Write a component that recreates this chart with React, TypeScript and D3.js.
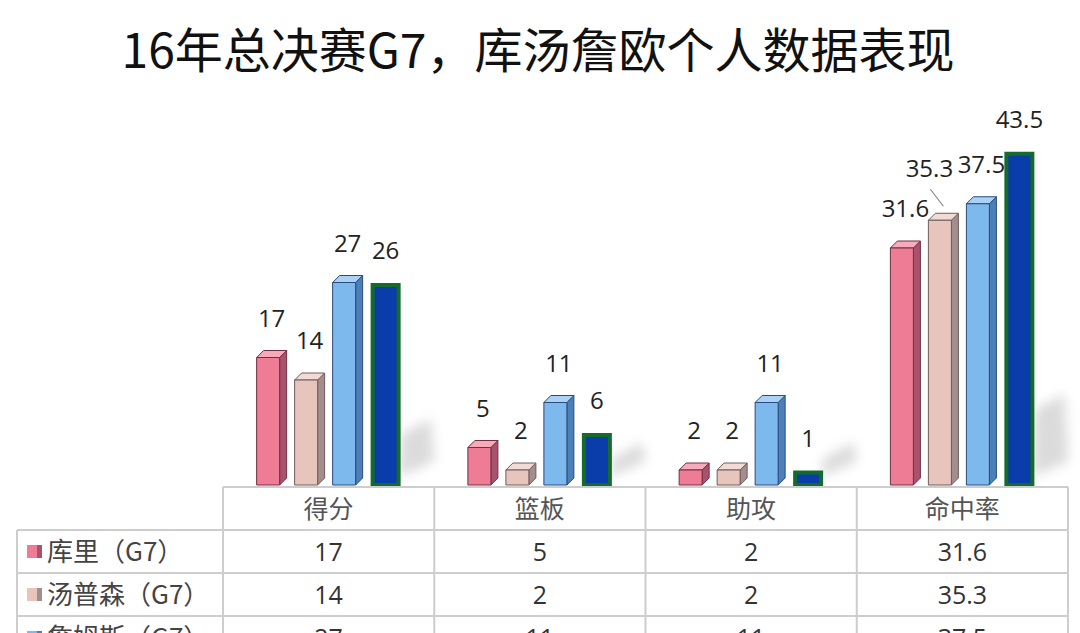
import React from 'react';
import * as d3 from 'd3';

const TITLE = '16年总决赛G7，库汤詹欧个人数据表现';
const categories = ['得分', '篮板', '助攻', '命中率'];
const seriesNames = ['库里（G7）', '汤普森（G7）', '詹姆斯（G7）', '欧文（G7）'];
const curry = [17, 5, 2, 31.6];
const thompson = [14, 2, 2, 35.3];
const james = [27, 11, 11, 37.5];
const irving = [26, 6, 1, 43.5];
const seriesValues = [curry, thompson, james, irving];

const W = 1080;
const H = 633;
const BASE = 485;
const DX = 7;
const DY = 7;

const styles = [
  { front: '#EE7C94', side: '#A9526C', top: '#F6AABA', stroke: '#6E3044' },
  { front: '#E7C5BC', side: '#A38D8D', top: '#F2DBD5', stroke: '#6E5C5C' },
  { front: '#7DB9EC', side: '#4C80B9', top: '#A9D2F6', stroke: '#2B4B7C' },
  { front: '#0A3CAA', side: '#0A3CAA', top: '#0A3CAA', stroke: '#146B2C' },
];

export default function App() {
  const x = d3.scaleBand<string>().domain(categories).range([223, 1068]).padding(0);
  const inner = d3
    .scaleBand<string>()
    .domain(seriesNames)
    .range([0, 137])
    .paddingInner(15 / 38)
    .paddingOuter(0);
  const y = d3.scaleLinear().domain([0, 50]).range([BASE, BASE - 375]);
  const bw = inner.bandwidth();
  const groupOffset = x.bandwidth() / 2 - (137 + DX) / 2;

  const tableTop = 487;
  const headerBottom = 530;
  const rowH = 43;
  const tableLeft = 17;
  const tableRight = 1068;
  const gridColor = '#CDCDCD';
  const rowsBottom = headerBottom + rowH * seriesNames.length;

  const bars: React.ReactNode[] = [];
  const labels: React.ReactNode[] = [];
  const shadows: React.ReactNode[] = [];

  categories.forEach((cat, ci) => {
    const g0 = (x(cat) as number) + groupOffset;
    const groupMax = d3.max(seriesValues, (s) => s[ci]) as number;
    const sh = (BASE - y(groupMax)) * 0.2;
    const xr = g0 + 137 + DX + 4;
    shadows.push(
      <polygon
        key={'sh' + ci}
        points={`${xr - 6},${BASE - 8} ${xr - 4},${BASE - sh - 10} ${xr + 26},${BASE - sh - 26} ${xr + 30},${BASE - 24}`}
        fill="#999"
        opacity={0.35}
        filter="url(#blur)"
      />
    );
    seriesNames.forEach((sn, si) => {
      const v = seriesValues[si][ci];
      const st = styles[si];
      const bx = g0 + (inner(sn) as number);
      const by = y(v);
      if (si === 3) {
        bars.push(
          <rect
            key={`b${ci}-${si}`}
            x={bx + 2}
            y={by - DY + 2}
            width={bw + DX - 4}
            height={BASE - by + DY - 2}
            fill={st.front}
            stroke={st.stroke}
            strokeWidth={4}
          />
        );
      } else {
        bars.push(
          <g key={`b${ci}-${si}`} stroke={st.stroke} strokeWidth={1} strokeLinejoin="round">
            <polygon
              points={`${bx + bw},${by} ${bx + bw + DX},${by - DY} ${bx + bw + DX},${BASE - DY} ${bx + bw},${BASE}`}
              fill={st.side}
            />
            <polygon
              points={`${bx},${by} ${bx + DX},${by - DY} ${bx + bw + DX},${by - DY} ${bx + bw},${by}`}
              fill={st.top}
            />
            <rect x={bx} y={by} width={bw} height={BASE - by} fill={st.front} />
          </g>
        );
      }
      let lx = bx + (bw + DX) / 2;
      let ly = by - DY - 24;
      const special = ci === 3 && si === 1;
      if (special) {
        const cx = lx;
        const capTop = by - DY;
        lx -= 14;
        ly -= 12;
        labels.push(
          <line
            key={`ll${ci}-${si}`}
            x1={lx + 1}
            y1={ly + 12}
            x2={cx}
            y2={capTop - 7}
            stroke="#888"
            strokeWidth={1.2}
          />
        );
      }
      labels.push(
        <text
          key={`l${ci}-${si}`}
          x={lx}
          y={ly}
          textAnchor="middle"
          fontSize={24}
          fill="#222"
          fontFamily="'Open Sans', 'Noto Sans', sans-serif"
        >
          {v}
        </text>
      );
    });
  });

  const cjkFont = "'Noto Sans CJK SC', 'Noto Sans', sans-serif";
  const numFont = "'Open Sans', 'Noto Sans', sans-serif";

  return (
    <div style={{ position: 'absolute', left: 0, top: 0, width: W, height: H, overflow: 'hidden', background: '#fff' }}>
      <svg width={W} height={H} style={{ display: 'block' }}>
        <defs>
          <filter id="blur" x="-50%" y="-50%" width="200%" height="200%">
            <feGaussianBlur stdDeviation={6} />
          </filter>
        </defs>
        <rect x={0} y={0} width={W} height={H} fill="#fff" />
        <text
          x={538}
          y={68}
          textAnchor="middle"
          fontSize={48}
          fontWeight={400}
          fill="#111"
          fontFamily={cjkFont}
        >
          {TITLE}
        </text>
        <g>{shadows}</g>
        <g>{bars}</g>
        <g>{labels}</g>

        <g stroke={gridColor} strokeWidth={2} fill="none">
          <line x1={x(categories[0]) as number} y1={tableTop} x2={tableRight} y2={tableTop} />
          <line x1={tableLeft} y1={headerBottom} x2={tableRight} y2={headerBottom} />
          {seriesNames.map((s, i) => (
            <line
              key={'h' + i}
              x1={tableLeft}
              y1={headerBottom + rowH * (i + 1)}
              x2={tableRight}
              y2={headerBottom + rowH * (i + 1)}
            />
          ))}
          <line x1={tableLeft} y1={headerBottom} x2={tableLeft} y2={rowsBottom} />
          {categories.map((c, i) => (
            <line key={'v' + i} x1={x(c) as number} y1={tableTop} x2={x(c) as number} y2={rowsBottom} />
          ))}
          <line x1={tableRight} y1={tableTop} x2={tableRight} y2={rowsBottom} />
        </g>
        {categories.map((c) => (
          <text
            key={'hd' + c}
            x={(x(c) as number) + x.bandwidth() / 2}
            y={(tableTop + headerBottom) / 2}
            dy="0.36em"
            textAnchor="middle"
            fontSize={25}
            fill="#555"
            fontFamily={cjkFont}
          >
            {c}
          </text>
        ))}
        {seriesNames.map((s, si) => {
          const cy = headerBottom + rowH * si + rowH / 2;
          const st = styles[si];
          return (
            <g key={'row' + si}>
              <rect x={27} y={cy - 6.5} width={10} height={13} fill={st.front} />
              <rect x={37} y={cy - 6.5} width={5} height={13} fill={st.side} />
              <text
                x={47}
                y={cy}
                dy="0.36em"
                fontSize={26}
                fill="#444"
                fontFamily={cjkFont}
              >
                {s}
              </text>
              {categories.map((c, ci) => (
                <text
                  key={'cell' + ci}
                  x={(x(c) as number) + x.bandwidth() / 2}
                  y={cy}
                  dy="0.36em"
                  textAnchor="middle"
                  fontSize={25}
                  fill="#333"
                  fontFamily={numFont}
                >
                  {seriesValues[si][ci]}
                </text>
              ))}
            </g>
          );
        })}
      </svg>
    </div>
  );
}
